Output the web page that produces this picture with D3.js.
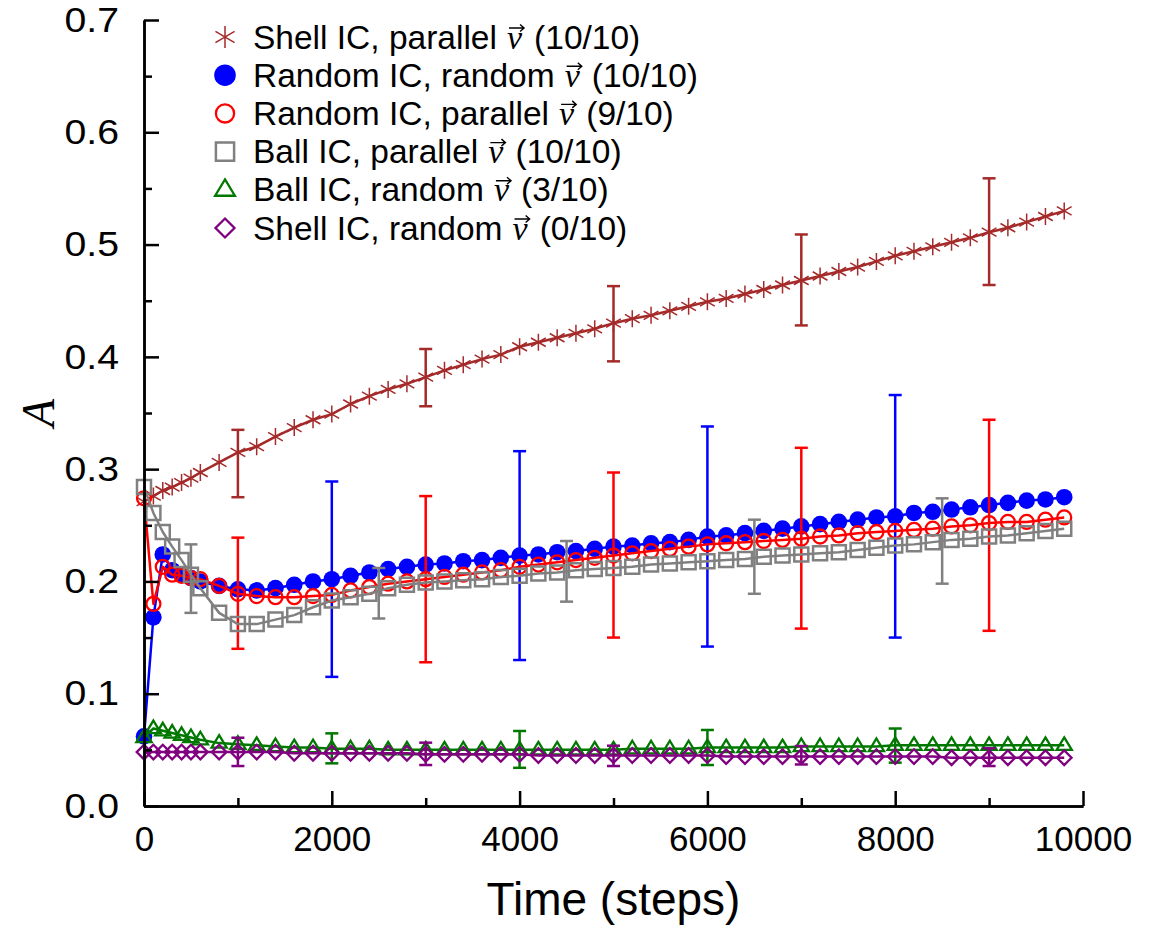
<!DOCTYPE html>
<html>
<head>
<meta charset="utf-8">
<script src="https://cdn.jsdelivr.net/npm/d3@7"></script>
<style>
  body { margin: 0; background: #fff; }
  text { font-family: "Liberation Sans", Arial, sans-serif; fill: #000; }
</style>
</head>
<body>
<svg width="1150" height="930"></svg>
<script>
let svg = d3.select("svg");

// time samples (steps)
let times = [0, 100, 200, 300, 400, 500, 600, 800, 1000, 1200, 1400, 1600, 1800, 2000,
    2200, 2400, 2600, 2800, 3000, 3200, 3400, 3600, 3800, 4000, 4200, 4400, 4600, 4800,
    5000, 5200, 5400, 5600, 5800, 6000, 6200, 6400, 6600, 6800, 7000, 7200, 7400, 7600,
    7800, 8000, 8200, 8400, 8600, 8800, 9000, 9200, 9400, 9600, 9800];

let shellParallel = [0.271, 0.276, 0.281, 0.284, 0.288, 0.292, 0.297, 0.306, 0.315, 0.320,
    0.329, 0.337, 0.344, 0.349, 0.358, 0.365, 0.371, 0.376, 0.382, 0.388, 0.393, 0.398,
    0.402, 0.409, 0.413, 0.417, 0.421, 0.425, 0.430, 0.434, 0.437, 0.441, 0.445, 0.449,
    0.452, 0.456, 0.460, 0.464, 0.468, 0.472, 0.476, 0.480, 0.485, 0.490, 0.494, 0.498,
    0.502, 0.506, 0.511, 0.515, 0.520, 0.525, 0.530];
let randomRandom = [0.062, 0.168, 0.224, 0.210, 0.206, 0.203, 0.200, 0.196, 0.193, 0.192,
    0.194, 0.197, 0.200, 0.202, 0.205, 0.208, 0.211, 0.213, 0.215, 0.216, 0.218, 0.219,
    0.221, 0.223, 0.224, 0.226, 0.227, 0.229, 0.231, 0.232, 0.234, 0.235, 0.237, 0.240,
    0.241, 0.243, 0.245, 0.247, 0.249, 0.251, 0.253, 0.255, 0.257, 0.258, 0.261, 0.262,
    0.264, 0.266, 0.268, 0.270, 0.272, 0.273, 0.275];
let randomParallel = [0.274, 0.180, 0.213, 0.206, 0.205, 0.203, 0.202, 0.196, 0.189, 0.187,
    0.186, 0.186, 0.187, 0.188, 0.192, 0.195, 0.198, 0.200, 0.202, 0.204, 0.206, 0.208,
    0.210, 0.213, 0.215, 0.217, 0.219, 0.221, 0.223, 0.225, 0.227, 0.229, 0.231, 0.233,
    0.234, 0.235, 0.236, 0.237, 0.238, 0.240, 0.241, 0.243, 0.244, 0.245, 0.246, 0.247,
    0.249, 0.250, 0.252, 0.253, 0.253, 0.255, 0.257];
let ballParallel = [0.284, 0.261, 0.244, 0.231, 0.219, 0.206, 0.194, 0.172, 0.162, 0.162,
    0.166, 0.170, 0.177, 0.183, 0.186, 0.189, 0.194, 0.197, 0.199, 0.200, 0.201, 0.202,
    0.204, 0.205, 0.207, 0.208, 0.210, 0.211, 0.212, 0.213, 0.215, 0.216, 0.217, 0.218,
    0.219, 0.220, 0.222, 0.223, 0.224, 0.225, 0.226, 0.228, 0.230, 0.232, 0.233, 0.235,
    0.237, 0.238, 0.240, 0.241, 0.243, 0.245, 0.247];
let ballRandom = [0.061, 0.069, 0.067, 0.065, 0.063, 0.061, 0.059, 0.056, 0.055, 0.054,
    0.053, 0.052, 0.052, 0.051, 0.051, 0.051, 0.050, 0.050, 0.050, 0.050, 0.050, 0.050,
    0.050, 0.050, 0.050, 0.050, 0.050, 0.050, 0.050, 0.051, 0.051, 0.051, 0.051, 0.052,
    0.052, 0.052, 0.052, 0.052, 0.053, 0.053, 0.053, 0.053, 0.053, 0.054, 0.054, 0.054,
    0.054, 0.054, 0.054, 0.054, 0.054, 0.054, 0.054];
let shellRandom = [0.048, 0.048, 0.048, 0.048, 0.048, 0.048, 0.048, 0.048, 0.048, 0.048,
    0.048, 0.047, 0.047, 0.047, 0.047, 0.047, 0.047, 0.047, 0.046, 0.046, 0.046, 0.046,
    0.046, 0.046, 0.045, 0.045, 0.045, 0.045, 0.045, 0.045, 0.045, 0.045, 0.045, 0.045,
    0.044, 0.044, 0.044, 0.044, 0.044, 0.044, 0.044, 0.044, 0.044, 0.044, 0.044, 0.044,
    0.043, 0.043, 0.043, 0.043, 0.043, 0.043, 0.043];

// error bars: time, low, high
let shellParallelErrT = [1000, 3000, 5000, 7000, 9000];
let shellParallelLo = [0.275, 0.356, 0.396, 0.428, 0.464];
let shellParallelHi = [0.335, 0.407, 0.463, 0.509, 0.559];
let randomRandomErrT = [2000, 4000, 6000, 8000];
let randomRandomLo = [0.115, 0.130, 0.142, 0.150];
let randomRandomHi = [0.289, 0.316, 0.338, 0.366];
let randomParallelErrT = [1000, 3000, 5000, 7000, 9000];
let randomParallelLo = [0.140, 0.128, 0.150, 0.158, 0.156];
let randomParallelHi = [0.239, 0.276, 0.297, 0.319, 0.344];
let ballParallelErrT = [500, 2500, 4500, 6500, 8500];
let ballParallelLo = [0.172, 0.167, 0.182, 0.189, 0.198];
let ballParallelHi = [0.233, 0.212, 0.236, 0.255, 0.274];
let ballRandomErrT = [2000, 4000, 6000, 8000];
let ballRandomLo = [0.038, 0.034, 0.0365, 0.0386];
let ballRandomHi = [0.0647, 0.0668, 0.0677, 0.069];
let shellRandomErrT = [1000, 3000, 5000, 7000, 9000];
let shellRandomLo = [0.0356, 0.0365, 0.0356, 0.037, 0.0356];
let shellRandomHi = [0.0608, 0.0564, 0.0537, 0.0534, 0.0514];

let legendLabels = ["Shell IC, parallel", "Random IC, random", "Random IC, parallel",
    "Ball IC, parallel", "Ball IC, random", "Shell IC, random"];
let legendCounts = ["(10/10)", "(10/10)", "(9/10)", "(10/10)", "(3/10)", "(0/10)"];

let xTicks = [0, 2000, 4000, 6000, 8000, 10000];
let xMinor = [1000, 3000, 5000, 7000, 9000];
let yTicks = [0, 0.1, 0.2, 0.3, 0.4, 0.5, 0.6, 0.7];
let yMinor = [0.05, 0.15, 0.25, 0.35, 0.45, 0.55, 0.65];

let x = d3.scaleLinear().domain([0, 10000]).range([144, 1083]);
let y = d3.scaleLinear().domain([0, 0.7]).range([806, 20]);

//Marker path generators, centred on 0,0
let markers = {
    star: r => {
        let p = "";
        [90, 30, -30].forEach(a => {
            let dx = r * Math.cos(a * Math.PI / 180), dy = r * Math.sin(a * Math.PI / 180);
            p += "M" + (-dx) + "," + (-dy) + "L" + dx + "," + dy;
        });
        return p;
    },
    circle: r => "M" + (-r) + ",0A" + r + "," + r + " 0 1,0 " + r + ",0A" + r + "," + r + " 0 1,0 " + (-r) + ",0Z",
    square: r => "M" + (-r) + "," + (-r) + "H" + r + "V" + r + "H" + (-r) + "Z",
    triangle: r => "M0," + (-r * 1.05) + "L" + r + "," + (r * 0.6) + "L" + (-r) + "," + (r * 0.6) + "Z",
    diamond: r => "M0," + (-r) + "L" + r + ",0L0," + r + "L" + (-r) + ",0Z"
};

let series = [
    {vals: shellParallel, errT: shellParallelErrT, lo: shellParallelLo, hi: shellParallelHi,
        color: "#a52a2a", shape: "star", r: 8.5, fill: "none", sw: 1.5, lw: 2.5},
    {vals: randomRandom, errT: randomRandomErrT, lo: randomRandomLo, hi: randomRandomHi,
        color: "#0000ff", shape: "circle", r: 8.3, fill: "#0000ff", sw: 0, lw: 2.5},
    {vals: randomParallel, errT: randomParallelErrT, lo: randomParallelLo, hi: randomParallelHi,
        color: "#ff0000", shape: "circle", r: 7, fill: "none", sw: 2.3, lw: 2.5},
    {vals: ballParallel, errT: ballParallelErrT, lo: ballParallelLo, hi: ballParallelHi,
        color: "#808080", shape: "square", r: 7, fill: "none", sw: 2.5, lw: 2.5},
    {vals: ballRandom, errT: ballRandomErrT, lo: ballRandomLo, hi: ballRandomHi,
        color: "#007800", shape: "triangle", r: 7.6, fill: "none", sw: 2.3, lw: 2.5},
    {vals: shellRandom, errT: shellRandomErrT, lo: shellRandomLo, hi: shellRandomHi,
        color: "#800080", shape: "diamond", r: 7.3, fill: "none", sw: 2.3, lw: 2.5}
];

let line = d3.line().x((d, i) => x(times[i])).y(d => y(d));

let plot = svg.append("g").attr("class", "plot");

series.forEach(s => {
    let g = plot.append("g");
    g.append("path")
        .attr("d", line(s.vals))
        .attr("fill", "none")
        .attr("stroke", s.color)
        .attr("stroke-width", s.lw)
        .attr("stroke-linejoin", "round");

    let cap = 6.5;
    let eb = g.selectAll("g.err")
        .data(s.errT).enter().append("g")
        .attr("stroke", s.color)
        .attr("stroke-width", 2.5);
    eb.append("line")
        .attr("x1", d => x(d)).attr("x2", d => x(d))
        .attr("y1", (d, i) => y(s.lo[i])).attr("y2", (d, i) => y(s.hi[i]));
    eb.append("line")
        .attr("x1", d => x(d) - cap).attr("x2", d => x(d) + cap)
        .attr("y1", (d, i) => y(s.lo[i])).attr("y2", (d, i) => y(s.lo[i]));
    eb.append("line")
        .attr("x1", d => x(d) - cap).attr("x2", d => x(d) + cap)
        .attr("y1", (d, i) => y(s.hi[i])).attr("y2", (d, i) => y(s.hi[i]));

    g.selectAll("path.mark")
        .data(s.vals).enter().append("path")
        .attr("class", "mark")
        .attr("transform", (d, i) => "translate(" + x(times[i]) + "," + y(d) + ")")
        .attr("d", markers[s.shape](s.r))
        .attr("fill", s.fill)
        .attr("stroke", s.sw > 0 ? s.color : "none")
        .attr("stroke-width", s.sw);
});

//Axes with inward ticks
function styleAxis(g, size) {
    g.selectAll("path.domain").attr("stroke", "#000").attr("stroke-width", 2.5);
    g.selectAll(".tick line").attr("stroke", "#000").attr("stroke-width", 2.5);
    g.selectAll(".tick text").style("font-size", size + "px").attr("fill", "#000");
}

let xAxis = svg.append("g")
    .attr("transform", "translate(0," + y(0) + ")")
    .call(d3.axisBottom(x).tickValues(xTicks).tickSizeInner(-15).tickSizeOuter(0)
        .tickPadding(20).tickFormat(d3.format("d")));
styleAxis(xAxis, 35);
xAxis.selectAll(".tick text").attr("dy", "0.71em");

let xMinorAxis = svg.append("g")
    .attr("transform", "translate(0," + y(0) + ")")
    .call(d3.axisBottom(x).tickValues(xMinor).tickSizeInner(-8).tickSizeOuter(0).tickFormat(""));
styleAxis(xMinorAxis, 35);

let yAxis = svg.append("g")
    .attr("transform", "translate(" + x(0) + ",0)")
    .call(d3.axisLeft(y).tickValues(yTicks).tickSizeInner(-15).tickSizeOuter(0)
        .tickPadding(25).tickFormat(d3.format(".1f")));
styleAxis(yAxis, 35);
//reference labels are a touch wider than plain Arial
yAxis.selectAll(".tick text").each(function() {
    d3.select(this).attr("textLength", this.getComputedTextLength() * 1.12)
        .attr("lengthAdjust", "spacingAndGlyphs");
});

let yMinorAxis = svg.append("g")
    .attr("transform", "translate(" + x(0) + ",0)")
    .call(d3.axisLeft(y).tickValues(yMinor).tickSizeInner(-8).tickSizeOuter(0).tickFormat(""));
styleAxis(yMinorAxis, 35);

//Axis titles
svg.append("text")
    .attr("x", (x.range()[0] + x.range()[1]) / 2)
    .attr("y", 915)
    .attr("text-anchor", "middle")
    .style("font-size", "46px")
    .text("Time (steps)");

svg.append("text")
    .attr("transform", "translate(54," + y(0.35) + ") rotate(-90)")
    .attr("text-anchor", "middle")
    .style("font-family", "'Liberation Serif', 'DejaVu Serif', serif")
    .style("font-style", "italic")
    .style("font-size", "46px")
    .text("A");

//Legend
let legend = svg.append("g").attr("class", "legend");
let rowH = 38.2;
let legendFont = 33.5;
series.forEach((s, i) => {
    let cy = 37 + i * rowH;
    let base = cy + 11.5;
    legend.append("path")
        .attr("transform", "translate(225," + cy + ")")
        .attr("d", markers[s.shape](s.r * 1.3))
        .attr("fill", s.fill)
        .attr("stroke", s.sw > 0 ? s.color : "none")
        .attr("stroke-width", s.sw);

    let t1 = legend.append("text")
        .attr("x", 253).attr("y", base)
        .style("font-size", legendFont + "px")
        .text(legendLabels[i]);
    let gap = legendFont * 0.3;
    let vx = 253 + t1.node().getComputedTextLength() + gap;
    let tv = legend.append("text")
        .attr("x", vx).attr("y", base)
        .style("font-family", "'Liberation Serif', 'DejaVu Serif', serif")
        .style("font-style", "italic")
        .style("font-size", "34px")
        .text("v");
    let vw = tv.node().getComputedTextLength();
    //vector arrow over v
    let ay = cy - 9;
    let ax0 = vx + 2, ax1 = vx + vw + 2;
    legend.append("path")
        .attr("d", "M" + ax0 + "," + ay + "H" + ax1 +
            "M" + (ax1 - 4) + "," + (ay - 3.5) + "L" + ax1 + "," + ay + "L" + (ax1 - 4) + "," + (ay + 3.5))
        .attr("fill", "none")
        .attr("stroke", "#000")
        .attr("stroke-width", 1.4);
    legend.append("text")
        .attr("x", vx + vw + gap + 2).attr("y", base)
        .style("font-size", legendFont + "px")
        .text(legendCounts[i]);
});
</script>
</body>
</html>
